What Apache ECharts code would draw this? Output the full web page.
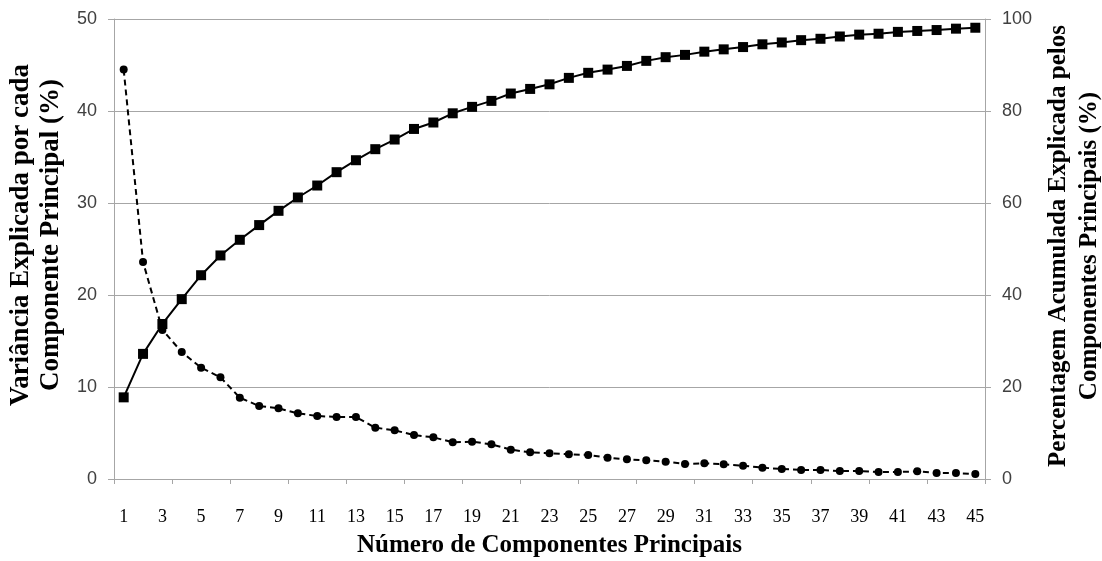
<!DOCTYPE html>
<html>
<head>
<meta charset="utf-8">
<script src="https://cdn.jsdelivr.net/npm/echarts@6/dist/echarts.min.js"></script>
<style>
html,body{margin:0;padding:0;background:#fff;}
#chart{width:1102px;height:561px;}
</style>
</head>
<body>
<div id="chart"></div>
<script>
const categories = Array.from({length: 45}, (_, i) => String(i + 1));

const varianceExplained = [
  44.5, 23.6, 16.2, 13.8, 12.1, 11.05, 8.84, 7.93, 7.68, 7.14,
  6.85, 6.74, 6.74, 5.58, 5.29, 4.78, 4.53, 3.99, 4.06, 3.77,
  3.19, 2.90, 2.79, 2.68, 2.61, 2.32, 2.14, 2.03, 1.88, 1.63,
  1.70, 1.60, 1.45, 1.23, 1.09, 0.98, 0.98, 0.87, 0.87, 0.76,
  0.76, 0.83, 0.65, 0.65, 0.54
];

const cumulativeExplained = [
  17.75, 27.2, 33.7, 39.1, 44.3, 48.6, 52.0, 55.2, 58.3, 61.2,
  63.8, 66.7, 69.3, 71.7, 73.8, 76.1, 77.5, 79.5, 80.9, 82.2,
  83.8, 84.8, 85.8, 87.2, 88.3, 89.0, 89.8, 90.9, 91.7, 92.2,
  92.9, 93.4, 93.9, 94.5, 94.9, 95.4, 95.7, 96.2, 96.6, 96.8,
  97.2, 97.4, 97.6, 97.9, 98.1
];

const leftTitle = 'Variância Explicada por cada\nComponente Principal (%)';
const rightTitle = 'Percentagem Acumulada Explicada pelos\nComponentes Principais (%)';
const xTitle = 'Número de Componentes Principais';

const gridColor = '#a6a6a6';
const leftTitleStyle = {fontFamily: 'Liberation Serif', fontWeight: 'bold', fontSize: 27, color: '#000', lineHeight: 30, padding: [0, 0, 0, 28]};
const rightTitleStyle = {fontFamily: 'Liberation Serif', fontWeight: 'bold', fontSize: 25, color: '#000', lineHeight: 31, padding: [0, 0, 0, 6]};
const xTitleStyle = {fontFamily: 'Liberation Serif', fontWeight: 'bold', fontSize: 25, color: '#000', lineHeight: 30};
const numStyle = {fontFamily: 'Liberation Sans', fontSize: 18, color: '#404040'};

const chart = echarts.init(document.getElementById('chart'), null, {renderer: 'canvas'});
chart.setOption({
  animation: false,
  backgroundColor: '#fff',
  grid: {left: 114, right: 117, top: 19, bottom: 82, containLabel: false, outerBoundsMode: 'none'},
  xAxis: {
    type: 'category',
    data: categories,
    boundaryGap: true,
    name: xTitle,
    nameLocation: 'middle',
    nameGap: 38,
    nameTextStyle: xTitleStyle,
    axisLine: {lineStyle: {color: gridColor, width: 1}},
    axisTick: {show: true, interval: 2, length: 5, lineStyle: {color: gridColor}},
    axisLabel: {interval: 1, margin: 29, fontFamily: 'Liberation Serif', fontSize: 18, color: '#000'},
    splitLine: {show: false}
  },
  yAxis: [
    {
      type: 'value', min: 0, max: 50, interval: 10, position: 'left',
      name: leftTitle, nameLocation: 'middle', nameRotate: 90, nameGap: 43,
      nameTextStyle: leftTitleStyle,
      axisLine: {show: true, lineStyle: {color: gridColor}},
      axisTick: {show: true, length: 6, lineStyle: {color: gridColor}},
      axisLabel: Object.assign({margin: 17}, numStyle),
      splitLine: {show: true, lineStyle: {color: gridColor, width: 1}}
    },
    {
      type: 'value', min: 0, max: 100, interval: 20, position: 'right',
      name: rightTitle, nameLocation: 'middle', nameRotate: 90, nameGap: 57,
      nameTextStyle: rightTitleStyle,
      axisLine: {show: true, lineStyle: {color: gridColor}},
      axisTick: {show: true, length: 6, lineStyle: {color: gridColor}},
      axisLabel: Object.assign({margin: 17}, numStyle),
      splitLine: {show: false}
    }
  ],
  series: [
    {
      name: 'Variância',
      type: 'line',
      yAxisIndex: 0,
      data: varianceExplained,
      symbol: 'circle',
      symbolSize: 8,
      itemStyle: {color: '#000'},
      lineStyle: {color: '#000', width: 2, type: [6, 4]},
      z: 3
    },
    {
      name: 'Acumulada',
      type: 'line',
      yAxisIndex: 1,
      data: cumulativeExplained,
      symbol: 'rect',
      symbolSize: 10,
      itemStyle: {color: '#000'},
      lineStyle: {color: '#000', width: 2},
      z: 2
    }
  ]
});
</script>
</body>
</html>
